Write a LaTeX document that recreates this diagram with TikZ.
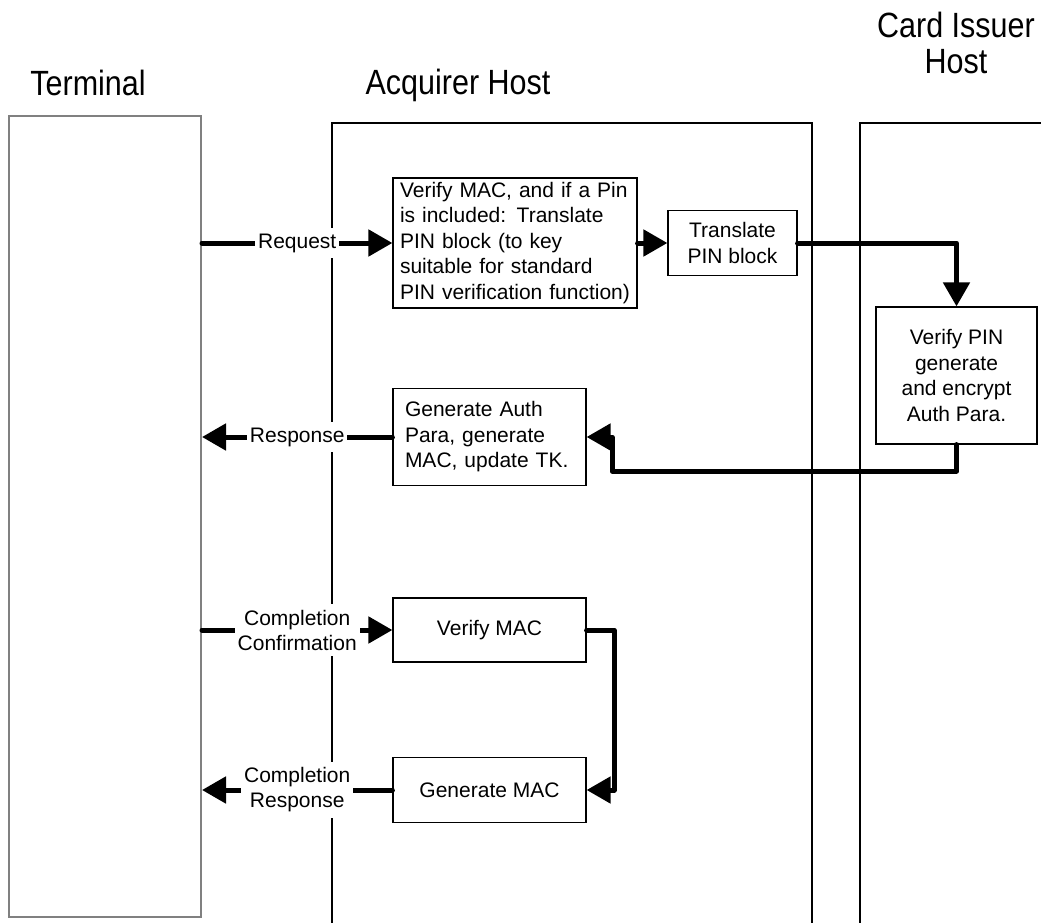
\documentclass[tikz,border=0pt]{standalone}
\usepackage{fontspec}
\setmainfont{Liberation Sans}
\usetikzlibrary{arrows.meta}

\begin{document}
\begin{tikzpicture}[x=1pt,y=-1pt,
    box/.style={draw,line width=1.2pt,inner sep=0pt,align=center,
      font=\fontsize{21}{25.5}\selectfont},
    flow/.style={line width=5pt,line cap=round,line join=round,
      -{Triangle[length=24pt,width=26pt]}},
    msg/.style={fill=white,inner xsep=3pt,inner ysep=6pt,align=center,
      font=\fontsize{21}{25}\selectfont},
    lane/.style={line width=1.2pt},
    head/.style={inner sep=0pt,font=\fontsize{30.5}{31}\selectfont}]
    \useasboundingbox (0,0) rectangle (1041,923);

    % Headers
    \node[head] (hterm) at (88,83) {\scalebox{1}[1.15]{Terminal}};
    \node[head] (hacq) at (458,85) {\scalebox{1}[1.15]{Acquirer Host}};
    \node[head] (hiss) at (956,48)
      {\scalebox{1}[1.15]{\begin{tabular}{@{}c@{}}Card Issuer\\Host\end{tabular}}};

    % Lanes
    \node[draw=gray,line width=2pt,minimum width=192,minimum height=800] (term) at (105,516.5) {};
    \draw[lane] (332,923) -- (332,123) -- (812,123) -- (812,923);
    \draw[lane] (860,923) -- (860,123) -- (1041,123);

    % Steps
    \node[box,align=left,text width=230pt,inner xsep=7pt,minimum height=130] (verify) at (515,243)
      {Verify MAC, and if a Pin\\is included: Translate\\PIN block (to key\\suitable for standard\\PIN verification function)};
    \node[box,minimum width=129,minimum height=65] (xlate) at (732.5,243) {Translate\\PIN block};
    \node[box,minimum width=161,minimum height=137] (issue) at (956.5,375.5)
      {Verify PIN\\generate\\and encrypt\\Auth Para.};
    \node[box,align=left,text width=169pt,inner xsep=12pt,minimum height=97] (auth) at (489.5,437)
      {Generate Auth\\Para, generate\\MAC, update TK.};
    \node[box,minimum width=193,minimum height=64] (chk) at (489.5,630) {Verify MAC};
    \node[box,minimum width=193,minimum height=65] (gen) at (489.5,790) {Generate MAC};

    % Bends
    \coordinate (bendA) at (612,471);
    \coordinate (bendB) at (614,700);

    % Messages
    \draw[flow] (term.east |- verify.west) -- node[msg] {Request} (verify.west);
    \draw[flow] (verify.east) -- (xlate.west);
    \draw[flow] (xlate.east) -| (issue.north);
    \draw[flow] (issue.south) |- (bendA) |- (auth.east);
    \draw[flow] (auth.west) -- node[msg] {Response} (auth.west -| term.east);
    \draw[flow] (term.east |- chk.west) -- node[msg] {Completion\\Confirmation} (chk.west);
    \draw[flow] (chk.east) -| (bendB) |- (gen.east);
    \draw[flow] (gen.west) -- node[msg] {Completion\\Response} (gen.west -| term.east);
\end{tikzpicture}
\end{document}
